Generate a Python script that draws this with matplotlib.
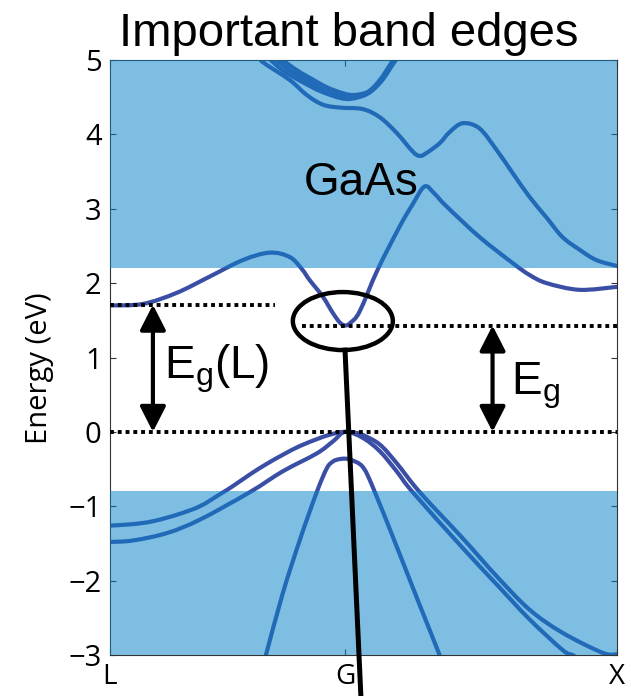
import matplotlib.pyplot as plt
from matplotlib.patches import Ellipse, PathPatch
from matplotlib.path import Path

# k-path positions of the symmetry points (L -> G -> X)
k_ticks = [0.0, 0.866, 1.866]
k_labels = ['L', 'G', 'X']
y_ticks = [-3, -2, -1, 0, 1, 2, 3, 4, 5]

# valence bands
vb_hh_k = [0.0, 0.085, 0.160, 0.250, 0.331, 0.404, 0.452, 0.520, 0.577, 0.640, 0.699,
           0.760, 0.798, 0.840, 0.866,
           0.900, 0.930, 0.993, 1.055, 1.140, 1.298, 1.423, 1.544, 1.665, 1.813, 1.866]
vb_hh_e = [-1.26, -1.24, -1.20, -1.11, -1.00, -0.84, -0.73, -0.56, -0.43, -0.30, -0.19,
           -0.10, -0.05, -0.01, 0.0,
           -0.01, -0.04, -0.17, -0.42, -0.81, -1.43, -1.94, -2.39, -2.70, -2.97, -2.99]
vb_lh_k = [0.0, 0.085, 0.210, 0.331, 0.515, 0.636, 0.761, 0.820, 0.866,
           0.930, 0.993, 1.055, 1.114, 1.298, 1.423, 1.544, 1.665, 1.702, 1.740]
vb_lh_e = [-1.48, -1.46, -1.36, -1.18, -0.81, -0.53, -0.29, -0.13, 0.0,
           -0.08, -0.26, -0.53, -0.81, -1.56, -2.05, -2.52, -2.93, -3.00, -3.08]
vb_so_k = [0.567, 0.574, 0.636, 0.699, 0.761, 0.798, 0.820, 0.840, 0.866, 0.890,
           0.930, 0.967, 1.055, 1.140, 1.213, 1.220]
vb_so_e = [-3.10, -3.00, -2.17, -1.45, -0.81, -0.49, -0.40, -0.37, -0.36, -0.38,
           -0.47, -0.74, -1.54, -2.33, -3.00, -3.10]

# conduction bands
cb1_k = [0.0, 0.121, 0.246, 0.368, 0.489, 0.588, 0.662, 0.706, 0.735, 0.783, 0.820, 0.846,
         0.866, 0.886, 0.919, 0.985, 1.066, 1.114, 1.158, 1.195, 1.239, 1.360, 1.482,
         1.544, 1.607, 1.728, 1.866]
cb1_e = [1.70, 1.72, 1.87, 2.09, 2.31, 2.41, 2.35, 2.19, 2.04, 1.82, 1.60, 1.47,
         1.43, 1.47, 1.62, 2.18, 2.76, 3.06, 3.30, 3.20, 3.03, 2.62, 2.27,
         2.11, 2.00, 1.91, 1.95]
cb2_k = [0.548, 0.563, 0.662, 0.724, 0.783, 0.846, 0.930, 0.993, 1.055, 1.114, 1.140,
         1.165, 1.213, 1.250, 1.298, 1.360, 1.423, 1.482, 1.544, 1.607, 1.665, 1.728,
         1.790, 1.866]
cb2_e = [5.05, 4.97, 4.73, 4.53, 4.40, 4.36, 4.34, 4.23, 4.02, 3.77, 3.71,
         3.75, 3.88, 4.03, 4.15, 4.08, 3.79, 3.48, 3.16, 2.88, 2.62, 2.45,
         2.31, 2.23]
cb3_k = [0.607, 0.662, 0.724, 0.783, 0.846, 0.882, 0.945, 0.993, 1.037, 1.055]
cb3_e = [5.02, 4.86, 4.73, 4.61, 4.52, 4.50, 4.56, 4.73, 4.97, 5.05]
cb4_k = [0.585, 0.640, 0.710, 0.775, 0.846, 0.890, 0.950, 1.000, 1.044, 1.062]
cb4_e = [5.02, 4.85, 4.70, 4.58, 4.49, 4.48, 4.55, 4.72, 4.97, 5.05]
cb5_k = [0.625, 0.680, 0.740, 0.800, 0.860, 0.900, 0.955, 1.003, 1.048, 1.066]
cb5_e = [5.03, 4.88, 4.75, 4.63, 4.55, 4.53, 4.58, 4.74, 4.98, 5.05]

# band edges
e_vbm = 0.0
e_cb_g = 1.43
e_cb_l = 1.71
band_top = 2.2
band_bottom = -0.8


def smooth_path(xs, ys):
    # Catmull-Rom style bezier through the given points
    pts = list(zip(xs, ys))
    n = len(pts)
    verts = [pts[0]]
    codes = [Path.MOVETO]
    for i in range(n - 1):
        p0 = pts[i - 1] if i > 0 else pts[i]
        p1 = pts[i]
        p2 = pts[i + 1]
        p3 = pts[i + 2] if i + 2 < n else pts[i + 1]
        c1 = (p1[0] + (p2[0] - p0[0]) / 6, p1[1] + (p2[1] - p0[1]) / 6)
        c2 = (p2[0] - (p3[0] - p1[0]) / 6, p2[1] - (p3[1] - p1[1]) / 6)
        verts += [c1, c2, p2]
        codes += [Path.CURVE4] * 3
    return Path(verts, codes)


fig = plt.figure(figsize=(6.31, 6.96), dpi=100)
ax = fig.add_axes([0.1743, 0.0589, 0.8035, 0.8549])

line_col = '#3a4ea6'
for k, e in [(vb_hh_k, vb_hh_e), (vb_lh_k, vb_lh_e), (vb_so_k, vb_so_e),
             (cb1_k, cb1_e), (cb2_k, cb2_e), (cb3_k, cb3_e), (cb4_k, cb4_e), (cb5_k, cb5_e)]:
    ax.add_patch(PathPatch(smooth_path(k, e), fill=False, ec=line_col, lw=3,
                           capstyle='round', joinstyle='round', zorder=2))

# translucent shading of the continuum regions
ax.axhspan(band_top, 5, color='#0984c9', alpha=0.52, lw=0, zorder=3)
ax.axhspan(-3, band_bottom, color='#0984c9', alpha=0.52, lw=0, zorder=3)

# dotted reference levels
dot = dict(color='black', lw=2.8, linestyle=(0, (1, 1)), zorder=4)
ax.plot([k_ticks[0], k_ticks[2]], [e_vbm, e_vbm], **dot)
ax.plot([k_ticks[0], 0.607], [e_cb_l, e_cb_l], **dot)
ax.plot([0.705, k_ticks[2]], [e_cb_g, e_cb_g], **dot)

arrow = dict(arrowstyle='<|-|>,head_length=0.55,head_width=0.28', color='black',
             lw=3, mutation_scale=28, shrinkA=0, shrinkB=0)
ax.annotate('', xy=(0.158, e_vbm), xytext=(0.158, e_cb_l), arrowprops=arrow, zorder=5)
ax.annotate('', xy=(1.408, e_vbm), xytext=(1.408, e_cb_g), arrowprops=arrow, zorder=5)

plt.rcParams['mathtext.fontset'] = 'custom'
plt.rcParams['mathtext.rm'] = 'Liberation Sans'
txt = dict(fontsize=33, family='Liberation Sans', color='black', zorder=6)
ax.text(0.200, 0.85, r'E$_\mathregular{g}$(L)', ha='left', va='center', **txt)
ax.text(1.475, 0.62, r'E$_\mathregular{g}$', ha='left', va='center', **txt)
ax.text(0.925, 3.35, 'GaAs', ha='center', va='center', **txt)

# circle around the direct gap and its pointer line
ax.add_patch(Ellipse((0.857, 1.49), 0.368, 0.78, fill=False, ec='black', lw=3.2, zorder=6))
ax.plot([0.865, 0.924], [1.10, -3.6], color='black', lw=3.6, clip_on=False, zorder=6)

ax.set_xlim(k_ticks[0], k_ticks[2])
ax.set_ylim(-3, 5)
ax.set_xticks(k_ticks)
ax.set_xticklabels(k_labels)
ax.set_yticks(y_ticks)
tick_font = ['Open Sans', 'DejaVu Sans']
for lab in ax.get_xticklabels() + ax.get_yticklabels():
    lab.set_family(tick_font)
    lab.set_fontsize(21)
for lab in ax.get_xticklabels():
    lab.set_fontsize(20)
ax.tick_params(direction='in', top=True, right=True, length=4.5, width=0.8,
               color='#333333')
ax.tick_params(axis='x', pad=6)
ax.tick_params(axis='y', pad=6)
for sp in ax.spines.values():
    sp.set_color('#333333')
    sp.set_linewidth(0.8)

fig.text(40 / 631, 1 - 368 / 696, 'Energy (eV)', rotation=90, ha='center', va='center',
         fontsize=21, family=tick_font)
fig.text(349 / 631, 1 - 46 / 696, 'Important band edges', ha='center', va='baseline',
         fontsize=34, family='Liberation Sans')

fig.savefig('out.png', dpi=100)
